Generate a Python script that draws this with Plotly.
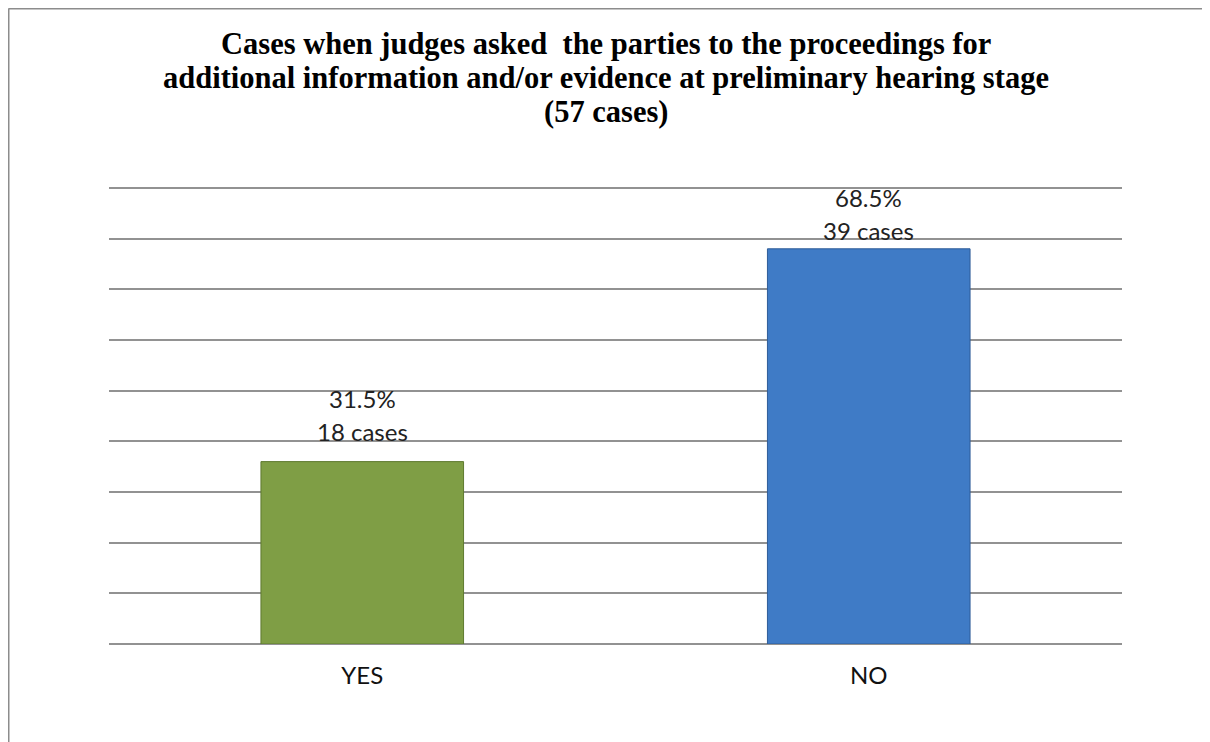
import plotly.graph_objects as go

categories = ["YES", "NO"]
cases = [18, 39]
percent_labels = ["31.5%", "68.5%"]
bar_colors = ["#7F9E45", "#3F7BC6"]
edge_colors = ["#5F7A30", "#2E5C97"]
label_shift = [46, 34]

title_lines = [
    "Cases when judges asked  the parties to the proceedings for",
    "additional information and/or evidence at preliminary hearing stage",
    "(57 cases)",
]

# page is rendered with an 8px body margin, so figure coords = page coords - 8
W, H = 1202, 734
ml, mr, mt, mb = 101, 88, 179, 98
pw = W - ml - mr
ph = H - mt - mb

def px_x(px):
    return (px - ml) / pw

def px_y(py):
    return (H - mb - py) / ph

label_font = dict(family="Lato, Liberation Sans, sans-serif", size=24, color="#222222")

fig = go.Figure()
fig.add_trace(go.Bar(
    x=categories,
    y=cases,
    marker=dict(color=bar_colors, line=dict(color=edge_colors, width=1)),
    hoverinfo="skip",
))

for c, v, p, s in zip(categories, cases, percent_labels, label_shift):
    fig.add_annotation(x=c, y=v, xref="x", yref="y", text=p, showarrow=False,
                       yanchor="middle", yshift=s + 17, font=label_font)
    fig.add_annotation(x=c, y=v, xref="x", yref="y", text=f"{v} cases", showarrow=False,
                       yanchor="middle", yshift=s - 16, font=label_font)

title_centers = [35.5, 69.5, 103.5]
for line, cy in zip(title_lines, title_centers):
    fig.add_annotation(
        x=px_x(598), y=px_y(cy), xref="paper", yref="paper",
        text=f"<b>{line}</b>", showarrow=False,
        xanchor="center", yanchor="middle",
        font=dict(family="Liberation Serif, Times New Roman, serif", size=30.5, color="black"),
    )

fig.update_layout(
    width=W, height=H,
    margin=dict(l=ml, r=mr, t=mt, b=mb, pad=0),
    paper_bgcolor="white", plot_bgcolor="white",
    showlegend=False,
    bargap=0.6,
    xaxis=dict(
        showgrid=False, showline=False, zeroline=False, ticks="",
        tickfont=dict(family="Lato, Liberation Sans, sans-serif", size=24, color="#111111"),
        ticklabelstandoff=15,
    ),
    yaxis=dict(
        range=[0, 45.1], dtick=5, showticklabels=False, ticks="",
        showgrid=True, gridcolor="#929292", gridwidth=2,
        zeroline=True, zerolinecolor="#929292", zerolinewidth=2,
        showline=False,
    ),
    shapes=[
        dict(type="line", xref="paper", yref="paper",
             x0=px_x(0.5), x1=px_x(0.5), y0=px_y(0.5), y1=px_y(H + 5),
             line=dict(color="#8C8C8C", width=2)),
        dict(type="line", xref="paper", yref="paper",
             x0=px_x(0.5), x1=px_x(W + 5), y0=px_y(0.5), y1=px_y(0.5),
             line=dict(color="#8C8C8C", width=2)),
    ],
)

fig.write_html("out.html")
